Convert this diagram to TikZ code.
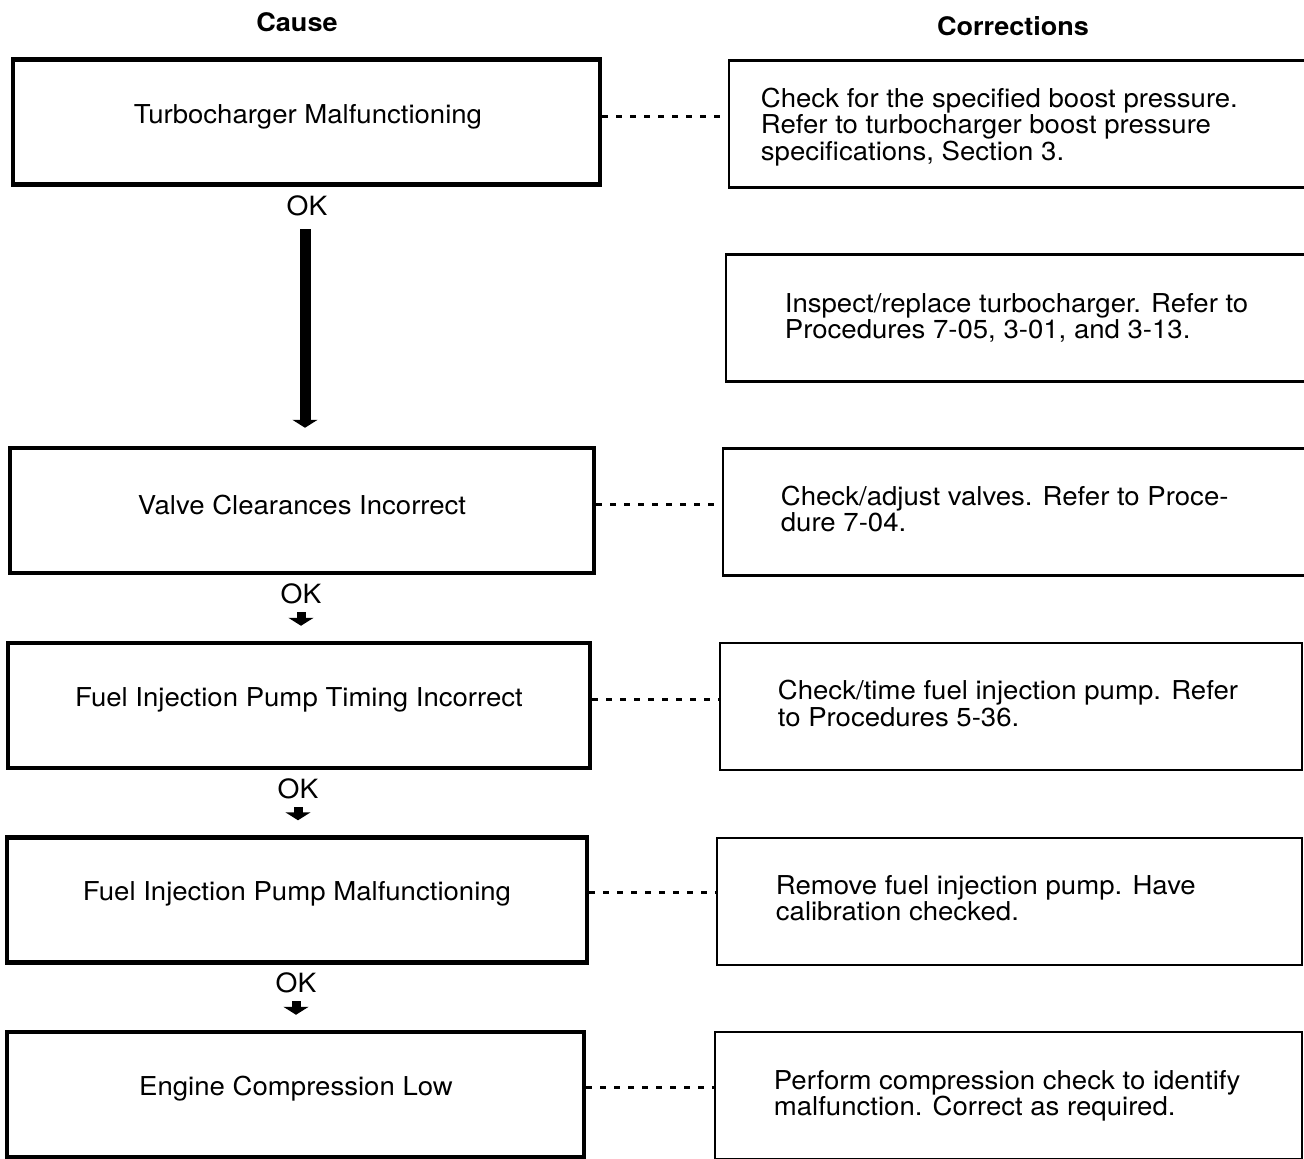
\documentclass[tikz,border=0pt]{standalone}
\usepackage{fontspec}
\setmainfont{TeX Gyre Heros}[FakeStretch=1.06]
\usetikzlibrary{arrows.meta,calc}
\begin{document}
\begin{tikzpicture}[x=1pt,y=-1pt,
  causebox/.style={draw=black,line width=4.5pt,minimum width=#1,minimum height=125pt,inner sep=0pt},
  fixbox/.style={draw=black,line width=2.6pt,minimum height=127pt,inner sep=0pt},
  causetext/.style={font=\fontsize{26}{26}\selectfont,inner sep=0pt},
  fixtext/.style={font=\fontsize{26}{26.3}\selectfont,align=left,anchor=west,inner sep=0pt},
  head/.style={font=\bfseries\fontsize{25.5}{25.5}\selectfont,inner sep=0pt},
  oktext/.style={font=\fontsize{26.5}{26.5}\selectfont,inner sep=0pt},
  link/.style={line width=3pt,dash pattern=on 6pt off 8pt},
  bigarrow/.style={line width=11pt,-{Triangle[width=25pt,length=8pt]}},
  smallarrow/.style={line width=9pt,-{Triangle[width=25pt,length=8pt]}}]
\useasboundingbox (0,0) rectangle (1304,1159);

% column headings
\node[head] (hcause) at (297,22) {Cause};
\node[head] (hfix) at (1013,26) {Corrections};

% cause column
\node[causebox=587pt] (c1) at (306.5,122) {};
\node[causetext] (t1) at (308,117) {Turbocharger Malfunctioning};
\node[causebox=584pt] (c2) at (302,510.5) {};
\node[causetext] (t2) at (302,505) {Valve Clearances Incorrect};
\node[causebox=582pt] (c3) at (299,705.5) {};
\node[causetext] (t3) at (299,700) {Fuel Injection Pump Timing Incorrect};
\node[causebox=580pt] (c4) at (297,900) {};
\node[causetext] (t4) at (297,894) {Fuel Injection Pump Malfunctioning};
\node[causebox=577pt] (c5) at (295.5,1094.5) {};
\node[causetext] (t5) at (296,1089) {Engine Compression Low};

% corrections column
\node[fixbox,minimum width=582pt] (f1) at (1020,124) {};
\node[fixtext] (g1) at ($(f1.west)+(33,3)$) {Check for the specified boost pressure.\\Refer to turbocharger boost pressure\\specifications, Section 3.};
\node[fixbox,minimum width=584pt] (f2) at (1018,318) {};
\node[fixtext] (g2) at ($(f2.west)+(60,0)$) {Inspect/replace turbocharger. Refer to\\Procedures 7-05, 3-01, and 3-13.};
\node[fixbox,minimum width=587pt] (f3) at (1016.5,512) {};
\node[fixtext] (g3) at ($(f3.west)+(59,-3)$) {Check/adjust valves. Refer to Proce-\\dure 7-04.};
\node[fixbox,minimum width=582pt] (f4) at (1011,706.5) {};
\node[fixtext] (g4) at ($(f4.west)+(59,-3)$) {Check/time fuel injection pump. Refer\\to Procedures 5-36.};
\node[fixbox,minimum width=585pt] (f5) at (1009.5,901.5) {};
\node[fixtext] (g5) at ($(f5.west)+(60,-3)$) {Remove fuel injection pump. Have\\calibration checked.};
\node[fixbox,minimum width=587pt] (f6) at (1008.5,1095.5) {};
\node[fixtext] (g6) at ($(f6.west)+(60,0)$) {Perform compression check to identify\\malfunction. Correct as required.};

% dashed links from causes to corrections
\draw[link] (c1.east |- 0,116) -- (f1.west |- 0,116);
\draw[link] (c2.east |- 0,504) -- (f3.west |- 0,504);
\draw[link] (c3.east |- 0,699) -- (f4.west |- 0,699);
\draw[link] (c4.east |- 0,892) -- (f5.west |- 0,892);
\draw[link] (c5.east |- 0,1087) -- (f6.west |- 0,1087);

% OK labels and arrows
\node[oktext] (ok1) at (307,206) {OK};
\node[oktext] (ok2) at (301,594) {OK};
\node[oktext] (ok3) at (298,789) {OK};
\node[oktext] (ok4) at (296,983) {OK};

\draw[bigarrow] ($(ok1.south)+(-2,13)$) -- ($(c2.north -| ok1.south)+(-2,-18)$);
\draw[smallarrow] ($(ok2.south)+(0,8)$) -- ($(c3.north -| ok2.south)+(0,-15)$);
\draw[smallarrow] ($(ok3.south)+(0,8)$) -- ($(c4.north -| ok3.south)+(0,-15)$);
\draw[smallarrow] ($(ok4.south)+(0,8)$) -- ($(c5.north -| ok4.south)+(0,-15)$);
\end{tikzpicture}
\end{document}
